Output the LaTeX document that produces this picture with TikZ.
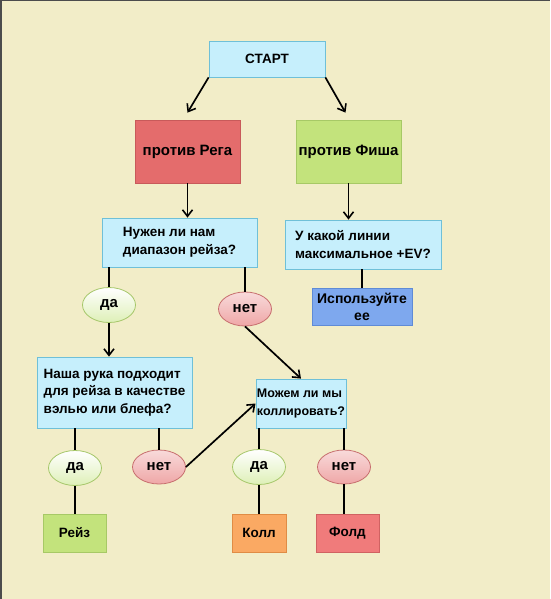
\documentclass[tikz,border=0pt]{standalone}
\usepackage{fontspec}
\setmainfont{Liberation Sans}
\usetikzlibrary{arrows.meta,positioning,calc,shapes.geometric,shadows}
\definecolor{fondo}{RGB}{242, 237, 200}
\definecolor{cianFill}{RGB}{198, 239, 252}
\definecolor{cianLine}{RGB}{111, 192, 216}
\definecolor{rojoFill}{RGB}{228, 108, 108}
\definecolor{rojoLine}{RGB}{200, 90, 90}
\definecolor{verdeFill}{RGB}{195, 227, 124}
\definecolor{verdeLine}{RGB}{167, 201, 102}
\definecolor{azulFill}{RGB}{126, 168, 238}
\definecolor{azulLine}{RGB}{95, 139, 214}
\definecolor{naranjaFill}{RGB}{250, 169, 99}
\definecolor{naranjaLine}{RGB}{224, 140, 69}
\definecolor{foldFill}{RGB}{240, 123, 123}
\definecolor{foldLine}{RGB}{208, 98, 98}
\definecolor{siLine}{RGB}{166, 199, 106}
\definecolor{noLine}{RGB}{199, 110, 110}
\tikzset{
  caja/.style={draw=#1Line,fill=#1Fill,line width=0.8pt,inner sep=2pt,
    drop shadow={opacity=0.25,shadow xshift=1pt,shadow yshift=-1.2pt},
    font=\fontsize{13.5}{17.5}\selectfont\bfseries},
  grande/.style={font=\fontsize{15}{18}\selectfont\bfseries},
  si/.style={ellipse,draw=siLine,line width=0.8pt,top color=white,bottom color=verdeFill!55,
    minimum width=53pt,minimum height=35pt,inner sep=0pt,grande},
  no/.style={ellipse,draw=noLine,line width=0.8pt,top color=rojoFill!25,bottom color=rojoFill!60,
    minimum width=53pt,minimum height=34pt,inner sep=0pt,grande},
  flecha/.style={-{Straight Barb[length=6.5pt,width=10pt,line width=1.6pt]},line width=1.7pt},
  linea/.style={line width=1.7pt}
}
\begin{document}
\begin{tikzpicture}[x=1pt,y=-1pt]
  \useasboundingbox (0,0) rectangle (550,599);
  \fill[fondo] (0,0) rectangle (550,599);
  \draw[black!70,line width=1.5pt] (0.75,599) -- (0.75,0.75) -- (550,0.75);

  % cajas
  \node[caja=cian,minimum width=116pt,minimum height=36pt] (start) at (267,59) {СТАРТ};
  \node[caja=rojo,grande,minimum width=105pt,minimum height=63pt] (reg) at (187.5,151.5) {против Рега};
  \node[caja=verde,grande,inner sep=0pt,minimum width=105pt,minimum height=63pt] (fish) at (348.5,151.5) {против Фиша};
  \node[caja=cian,minimum width=155pt,minimum height=49pt,align=left] (need) at (179.5,242.5) {Нужен ли нам\\диапазон рейза?};
  \node[caja=cian,minimum width=156pt,minimum height=49pt,align=left] (line) at (363,244.5) {У какой линии\\максимальное +EV?};
  \node[caja=azul,minimum width=100pt,minimum height=37pt,align=center,
    font=\fontsize{14}{17}\selectfont\bfseries] (use) at (362,306.5) {Используйте\\ее};
  \node[caja=cian,minimum width=155pt,minimum height=71pt,align=left] (hand) at (114.5,392.5) {Наша рука подходит\\для рейза в качестве\\вэлью или блефа?};
  \node[caja=cian,minimum width=90pt,minimum height=49pt,align=left,inner sep=1pt,
    font=\fontsize{12.5}{17.5}\selectfont\bfseries] (call) at (301,403.5) {Можем ли мы\\коллировать?};
  \node[caja=verde,minimum width=63pt,minimum height=38pt] (raise) at (74.5,533) {Рейз};
  \node[caja=naranja,minimum width=54pt,minimum height=38pt] (callres) at (259,533) {Колл};
  \node[caja=fold,minimum width=63pt,minimum height=38pt] (fold) at (347.5,533) {Фолд};

  % respuestas
  \node[si] (yes1) at (109,305) {да};
  \node[no] (no1) at (245,309) {нет};
  \node[si] (yes2) at (75,468) {да};
  \node[no] (no2) at (159,467) {нет};
  \node[si] (yes3) at (259,467) {да};
  \node[no] (no3) at (344,467) {нет};

  % conexiones
  \draw[flecha] (start.south west) -- ([yshift=7pt]reg.north);
  \draw[flecha] (start.south east) -- ([yshift=7pt,xshift=-3pt]fish.north);
  \draw[flecha] (reg.south) -- (reg.south |- need.north);
  \draw[flecha] (fish.south) -- (fish.south |- line.north);
  \draw[linea] (yes1.north |- need.south) -- (yes1.north);
  \draw[flecha] (yes1.south) -- (yes1.south |- hand.north);
  \draw[linea] (no1.north |- need.south) -- (no1.north);
  \draw[flecha] (no1.south) -- (call.north);
  \draw[linea] (use.north |- line.south) -- (use.north);
  \draw[linea] (yes2.north |- hand.south) -- (yes2.north);
  \draw[linea] (yes2.south) -- (yes2.south |- raise.north);
  \draw[linea] (no2.north |- hand.south) -- (no2.north);
  \draw[flecha] (no2.east) -- (call.west);
  \draw[linea] (yes3.north |- call.south) -- (yes3.north);
  \draw[linea] (yes3.south) -- (yes3.south |- callres.north);
  \draw[linea] (no3.north |- call.south) -- (no3.north);
  \draw[linea] (no3.south) -- (no3.south |- fold.north);
\end{tikzpicture}
\end{document}
